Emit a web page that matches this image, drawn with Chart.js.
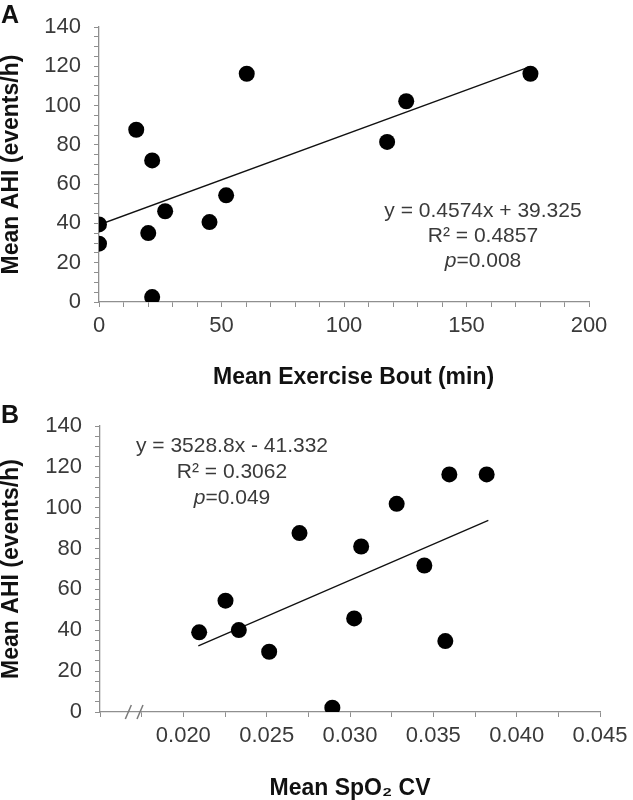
<!DOCTYPE html>
<html>
<head>
<meta charset="utf-8">
<script src="https://cdn.jsdelivr.net/npm/chart.js"></script>
<style>
  html, body { margin: 0; padding: 0; background: #fff; }
  #wrap { position: relative; width: 633px; height: 800px; overflow: hidden; font-family: "Liberation Sans", Arial, sans-serif; }
  canvas { position: absolute; left: 0; }
  .panel { position: absolute; font-weight: bold; font-size: 25px; color: #111; line-height: 1; }
  .eq { position: absolute; width: 260px; text-align: center; font-size: 21px; color: #3a3a3a; white-space: nowrap; }
</style>
</head>
<body>
<div id="wrap">
  <canvas id="chartA" width="633" height="400" style="top:0"></canvas>
  <canvas id="chartB" width="633" height="400" style="top:400px"></canvas>
  <div class="panel" style="left:1px;top:2px">A</div>
  <div class="panel" style="left:1px;top:402px">B</div>
  <div class="eq" style="left:353px;top:197px;line-height:25px">y = 0.4574x + 39.325<br>R² = 0.4857<br><i>p</i>=0.008</div>
  <div class="eq" style="left:102px;top:432px;line-height:26px">y = 3528.8x - 41.332<br>R² = 0.3062<br><i>p</i>=0.049</div>
</div>
<script>
// panel A: mean exercise bout vs mean AHI
const exerciseBout = [60.3, 176.1, 125.4, 117.6, 15.2, 21.7, 51.9, 27, 45.1, 0, 20.1, 0, 21.7];
const ahiA = [116.2, 116.2, 102.2, 81.5, 87.7, 72.1, 54.3, 46.2, 40.7, 39.5, 35.1, 29.7, 2.5];
const trendAX = [0, 176];
const trendAY = [39.3, 119.8];

// panel B: mean SpO2 CV vs mean AHI
const spo2CV = [0.02095, 0.02253, 0.02333, 0.02515, 0.02697, 0.02894, 0.03025, 0.03067, 0.0328, 0.03446, 0.03572, 0.03596, 0.0382];
const ahiB = [39, 54.5, 40.1, 29.5, 87.6, 2.1, 45.8, 81, 101.9, 71.7, 34.7, 116.3, 116.3];
const trendBX = [0.0209, 0.0383];
const trendBY = [32.4, 93.8];

// tick labels
const ahiTicks = [0, 20, 40, 60, 80, 100, 120, 140];
const boutTicks = [0, 50, 100, 150, 200];
const cvTicks = ['0.020', '0.025', '0.030', '0.035', '0.040', '0.045'];
const breakMarks = [0.0167, 0.0174];

const family = '"Liberation Sans", Arial, sans-serif';
const axisGray = '#8f8f8f';
const tickColor = '#3a3a3a';

const pts = (xs, ys) => xs.map((x, i) => ({ x: x, y: ys[i] }));

function datasets(xs, ys, tx, ty) {
    return [
        {
            data: pts(xs, ys),
            backgroundColor: '#000',
            borderWidth: 0,
            pointRadius: 8,
            pointHoverRadius: 8
        },
        {
            data: pts(tx, ty),
            showLine: true,
            borderColor: '#111',
            borderWidth: 1.3,
            pointRadius: 0,
            fill: false
        }
    ];
}

function yAxis(width) {
    return {
        min: 0, max: 140,
        border: { color: axisGray, width: 1.3 },
        grid: { drawOnChartArea: false, tickLength: 5, color: axisGray },
        ticks: {
            stepSize: 5, autoSkip: false, padding: 13, color: tickColor,
            font: { size: 22, family: family },
            callback: v => ahiTicks.includes(v) ? String(v) : ''
        },
        title: {
            display: true, text: 'Mean AHI (events/h)', color: '#111',
            font: { size: 23, weight: 'bold', family: family, lineHeight: 1 },
            padding: 0
        },
        afterFit: s => { s.width = width; s.paddingTop = 0; s.paddingBottom = 0; }
    };
}

// "//" marks on the broken x axis of panel B
const axisBreak = {
    id: 'axisBreak',
    afterDraw(chart) {
        const xs = chart.scales.x;
        const y = chart.chartArea.bottom;
        const c = chart.ctx;
        c.save();
        c.strokeStyle = '#7a7a7a';
        c.lineWidth = 1.5;
        breakMarks.forEach(v => {
            const px = xs.getPixelForValue(v);
            c.beginPath();
            c.moveTo(px - 3, y + 7);
            c.lineTo(px + 3, y - 7);
            c.stroke();
        });
        c.restore();
    }
};

const common = {
    responsive: false,
    animation: false,
    plugins: { legend: { display: false }, tooltip: { enabled: false } }
};

new Chart(document.getElementById('chartA').getContext('2d'), {
    type: 'scatter',
    data: { datasets: datasets(exerciseBout, ahiA, trendAX, trendAY) },
    options: Object.assign({}, common, {
        layout: { padding: { top: 27, right: 44, bottom: 0, left: 0 } },
        scales: {
            x: {
                type: 'linear', min: 0, max: 200,
                border: { color: axisGray, width: 1.3 },
                grid: { drawOnChartArea: false, tickLength: 5, color: axisGray },
                ticks: {
                    stepSize: 10, autoSkip: false, maxRotation: 0, padding: 6, color: tickColor,
                    font: { size: 22, family: family },
                    callback: v => boutTicks.includes(v) ? String(v) : ''
                },
                title: {
                    display: true, text: '   Mean Exercise Bout (min)', color: '#111',
                    font: { size: 23, weight: 'bold', family: family, lineHeight: 1.2 },
                    padding: { top: 0, bottom: 9 }
                },
                afterFit: s => { s.height = 98; s.paddingLeft = 0; s.paddingRight = 0; }
            },
            y: yAxis(99)
        }
    })
});

new Chart(document.getElementById('chartB').getContext('2d'), {
    type: 'scatter',
    data: { datasets: datasets(spo2CV, ahiB, trendBX, trendBY) },
    options: Object.assign({}, common, {
        layout: { padding: { top: 26, right: 33, bottom: 0, left: 0 } },
        scales: {
            x: {
                type: 'linear', min: 0.015, max: 0.045,
                border: { color: axisGray, width: 1.3 },
                grid: { drawOnChartArea: false, tickLength: 5, color: axisGray },
                ticks: {
                    stepSize: 0.0025, autoSkip: false, maxRotation: 0, padding: 6, color: tickColor,
                    font: { size: 22, family: family },
                    callback: v => {
                        const s = v.toFixed(3);
                        return cvTicks.includes(s) && Math.abs(v * 10000 - Math.round(v * 10000)) < 1e-6 && Math.round(v * 10000) % 50 === 0 ? s : '';
                    }
                },
                title: {
                    display: true, text: 'Mean SpO\u2082 CV', color: '#111',
                    font: { size: 23, weight: 'bold', family: family, lineHeight: 1 },
                    padding: 0
                },
                afterFit: s => { s.height = 88; s.paddingLeft = 0; s.paddingRight = 0; }
            },
            y: yAxis(100)
        }
    }),
    plugins: [axisBreak]
});
</script>
</body>
</html>
